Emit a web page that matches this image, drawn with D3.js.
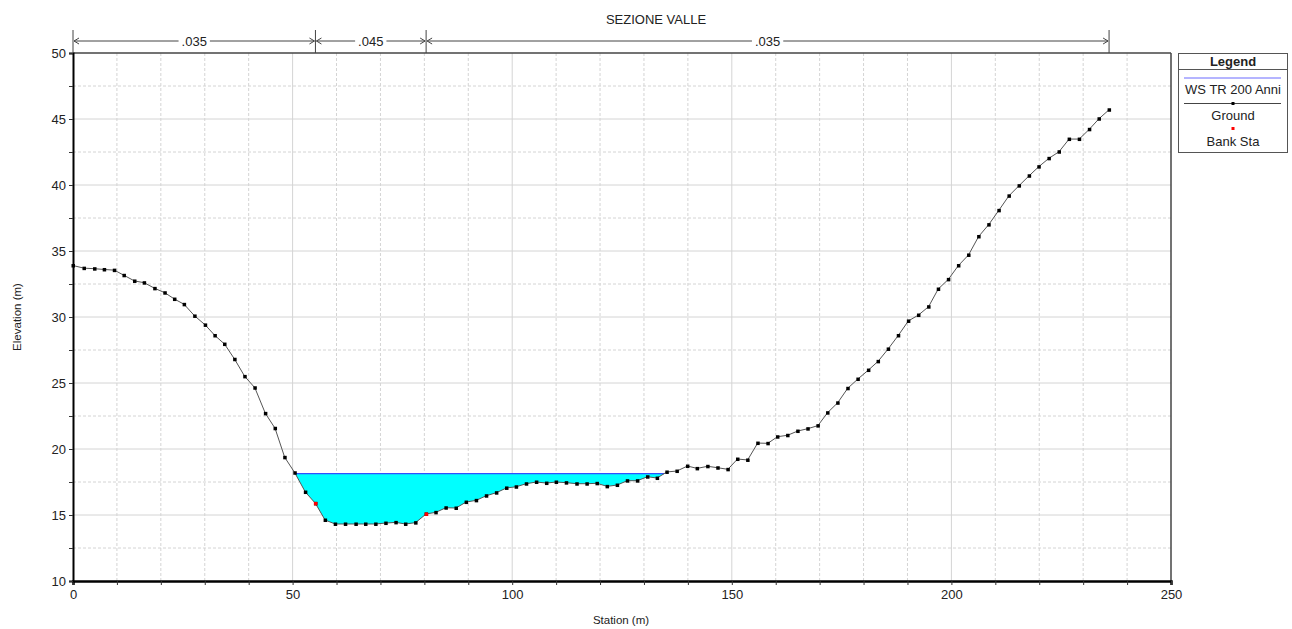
<!DOCTYPE html>
<html><head><meta charset="utf-8">
<script src="https://cdn.jsdelivr.net/npm/d3@7"></script>
<style>body{margin:0;background:#fff}svg{display:block;font-family:"Liberation Sans",Arial,sans-serif}</style>
</head><body><svg id="c" width="1292" height="629"></svg>
<script>
const stations = [0,2.5,4.9,7.1,9.4,11.6,14.0,16.2,18.6,20.9,23.1,25.3,27.7,30.1,32.3,34.5,36.8,39.1,41.4,43.8,46.0,48.2,50.5,52.9,55.2,57.4,59.7,62.0,64.4,66.6,68.9,71.2,73.5,75.7,78.0,80.4,82.6,84.9,87.2,89.5,91.8,94.1,96.4,98.7,100.9,103.2,105.5,107.8,110.0,112.3,114.7,117.0,119.3,121.6,123.9,126.2,128.5,130.8,133.0,135.2,137.5,139.9,142.1,144.5,146.8,149.1,151.3,153.6,155.9,158.2,160.4,162.7,165.0,167.3,169.6,171.8,174.1,176.4,178.7,181.1,183.3,185.6,187.9,190.2,192.5,194.8,197.0,199.3,201.6,203.9,206.2,208.5,210.8,213.1,215.4,217.7,219.9,222.2,224.5,226.8,229.1,231.4,233.6,235.9];
const elevations = [33.9,33.7,33.66,33.6,33.55,33.16,32.73,32.6,32.17,31.84,31.36,30.96,30.08,29.4,28.6,27.95,26.8,25.5,24.64,22.7,21.57,19.37,18.2,16.74,15.88,14.62,14.32,14.32,14.32,14.32,14.32,14.39,14.44,14.32,14.42,15.08,15.2,15.55,15.53,15.98,16.11,16.46,16.69,17.05,17.14,17.37,17.5,17.42,17.5,17.45,17.37,17.37,17.4,17.17,17.27,17.6,17.6,17.9,17.8,18.26,18.33,18.71,18.53,18.69,18.58,18.46,19.24,19.17,20.45,20.43,20.93,21.04,21.36,21.54,21.77,22.75,23.5,24.6,25.3,25.98,26.64,27.58,28.6,29.7,30.15,30.78,32.12,32.85,33.9,34.7,36.1,37.0,38.08,39.18,39.95,40.7,41.39,42.02,42.52,43.48,43.48,44.22,45.02,45.7];
const bankStations = [55.2, 80.4];
const bankElevations = [15.88, 15.08];
const wsElevation = 18.13;
const nBreaks = [0, 55.2, 80.4, 235.9];
const nValues = [".035", ".045", ".035"];
const xTicksMajor = [0,50,100,150,200,250];
const yTicksMajor = [10,15,20,25,30,35,40,45,50];
const legendItems = ["WS TR 200 Anni","Ground","Bank Sta"];
const title = "SEZIONE VALLE";

const svg = d3.select("#c");
const L=73,R=1171,T=53,B=581;
const x = d3.scaleLinear().domain([0,250]).range([L,R]);
const y = d3.scaleLinear().domain([10,50]).range([B,T]);
const FF = "Liberation Sans, Arial, sans-serif";

// grid
const g = svg.append("g");
d3.range(10,250,10).forEach(v=>{
  g.append("line").attr("x1",x(v)).attr("x2",x(v)).attr("y1",T).attr("y2",B)
   .attr("stroke","#d4d4d4").attr("stroke-width",1)
   .attr("stroke-dasharray", v%50===0? null : "3,2");
});
d3.range(12.5,50,2.5).forEach(v=>{
  g.append("line").attr("x1",L).attr("x2",R).attr("y1",y(v)).attr("y2",y(v))
   .attr("stroke","#d4d4d4").attr("stroke-width",1)
   .attr("stroke-dasharray", v%5===0? null : "3,2");
});

// water fill
const pts = stations.map((s,i)=>[s,elevations[i]]);
const poly = [];
for(let i=0;i<pts.length-1;i++){
  const [s0,e0]=pts[i],[s1,e1]=pts[i+1];
  if(e0<=wsElevation) poly.push([s0,e0]);
  if((e0-wsElevation)*(e1-wsElevation)<0){
    const t=(wsElevation-e0)/(e1-e0);
    poly.push([s0+t*(s1-s0),wsElevation]);
  }
}
const crossings = poly.filter(p=>p[1]===wsElevation).map(p=>p[0]);
const wsLeft = crossings[0];
const wsRight = crossings[crossings.length-1];
const fillPts = poly.filter(p=>p[0]>=wsLeft && p[0]<=wsRight);
const area = d3.area().x(d=>x(d[0])).y0(d=>y(d[1])).y1(y(wsElevation));
svg.append("path").datum(fillPts).attr("d",area).attr("fill","#00ffff");
svg.append("line").attr("x1",x(wsLeft)).attr("x2",x(wsRight)).attr("y1",y(wsElevation)).attr("y2",y(wsElevation))
  .attr("stroke","#3050ff").attr("stroke-width",1.2);

// ground
const line = d3.line().x(d=>x(d[0])).y(d=>y(d[1]));
svg.append("path").datum(pts).attr("d",line).attr("fill","none").attr("stroke","#555").attr("stroke-width",1);
svg.append("g").selectAll("rect").data(pts).join("rect")
  .attr("x",d=>x(d[0])-1.5).attr("y",d=>y(d[1])-1.5).attr("width",3.5).attr("height",3.5).attr("fill","#000");
svg.append("g").selectAll("rect").data(bankStations.map((s,i)=>[s,bankElevations[i]])).join("rect")
  .attr("x",d=>x(d[0])-1.5).attr("y",d=>y(d[1])-1.5).attr("width",3.5).attr("height",3.5).attr("fill","#ff0000");

// frame
svg.append("line").attr("x1",L).attr("x2",R).attr("y1",T).attr("y2",T).attr("stroke","#444").attr("stroke-width",1.5);
svg.append("line").attr("x1",R).attr("x2",R).attr("y1",T).attr("y2",B).attr("stroke","#444").attr("stroke-width",1.5);

// axes
const xAxis = d3.axisBottom(x).tickValues(d3.range(0,251,10)).tickSize(4)
  .tickFormat(d=>xTicksMajor.includes(d)?d:"");
const xa = svg.append("g").attr("transform",`translate(0,${B})`).call(xAxis);
xa.select(".domain").attr("stroke","#000").attr("stroke-width",2.5);
xa.selectAll(".tick line").attr("stroke","#333");
xa.selectAll("text").attr("font-size",13).attr("fill","#222").attr("dy","0.85em").attr("font-family",FF);
const yAxis = d3.axisLeft(y).tickValues(d3.range(10,50.1,2.5)).tickSize(4)
  .tickFormat(d=>yTicksMajor.includes(d)?d:"");
const ya = svg.append("g").attr("transform",`translate(${L},0)`).call(yAxis);
ya.select(".domain").attr("stroke","#000").attr("stroke-width",2);
ya.selectAll(".tick line").attr("stroke","#333");
ya.selectAll("text").attr("font-size",13).attr("fill","#222").attr("font-family",FF);

// axis titles
svg.append("text").attr("x",(L+R)/2 - 1).attr("y",624).attr("text-anchor","middle").attr("font-size",11.5).attr("fill","#222").text("Station (m)");
svg.append("text").attr("transform",`translate(21,${(T+B)/2}) rotate(-90)`).attr("text-anchor","middle").attr("font-size",11.5).attr("fill","#222").text("Elevation (m)");
svg.append("text").attr("x",656).attr("y",24).attr("text-anchor","middle").attr("font-size",13).attr("fill","#222").text(title);

// roughness brackets
const ry = 41;
nBreaks.forEach(s=>{
  svg.append("line").attr("x1",x(s)).attr("x2",x(s)).attr("y1",30).attr("y2",T).attr("stroke","#444").attr("stroke-width",1);
});
nValues.forEach((v,i)=>{
  const a=x(nBreaks[i]), b=x(nBreaks[i+1]), m=(a+b)/2;
  const t = svg.append("text").attr("x",m).attr("y",ry+5).attr("text-anchor","middle").attr("font-size",13).attr("fill","#222").text(v);
  const w = t.node().getComputedTextLength();
  svg.append("line").attr("x1",a+1).attr("x2",m-w/2-3).attr("y1",ry).attr("y2",ry).attr("stroke","#444");
  svg.append("line").attr("x1",m+w/2+3).attr("x2",b-1).attr("y1",ry).attr("y2",ry).attr("stroke","#444");
  svg.append("path").attr("d",`M${a+6},${ry-3}L${a+1},${ry}L${a+6},${ry+3}`).attr("fill","none").attr("stroke","#444");
  svg.append("path").attr("d",`M${b-6},${ry-3}L${b-1},${ry}L${b-6},${ry+3}`).attr("fill","none").attr("stroke","#444");
});

// legend
const lg = svg.append("g");
lg.append("rect").attr("x",1178.5).attr("y",53.5).attr("width",109).attr("height",99).attr("fill","#fff").attr("stroke","#555");
lg.append("text").attr("x",1233).attr("y",65.5).attr("text-anchor","middle").attr("font-size",13).attr("font-weight","bold").attr("fill","#222").text("Legend");
lg.append("line").attr("x1",1178.5).attr("x2",1287.5).attr("y1",69.5).attr("y2",69.5).attr("stroke","#555");
lg.append("line").attr("x1",1184).attr("x2",1281).attr("y1",78).attr("y2",78).attr("stroke","#6a6aff");
lg.append("text").attr("x",1233).attr("y",93.5).attr("text-anchor","middle").attr("font-size",13).attr("fill","#222").text(legendItems[0]);
lg.append("line").attr("x1",1184).attr("x2",1281).attr("y1",103.5).attr("y2",103.5).attr("stroke","#444");
lg.append("rect").attr("x",1231.5).attr("y",102).attr("width",3).attr("height",3).attr("fill","#000");
lg.append("text").attr("x",1233).attr("y",119.5).attr("text-anchor","middle").attr("font-size",13).attr("fill","#222").text(legendItems[1]);
lg.append("rect").attr("x",1231.5).attr("y",127).attr("width",3).attr("height",3).attr("fill","#ff0000");
lg.append("text").attr("x",1233).attr("y",145.5).attr("text-anchor","middle").attr("font-size",13).attr("fill","#222").text(legendItems[2]);
</script></body></html>
